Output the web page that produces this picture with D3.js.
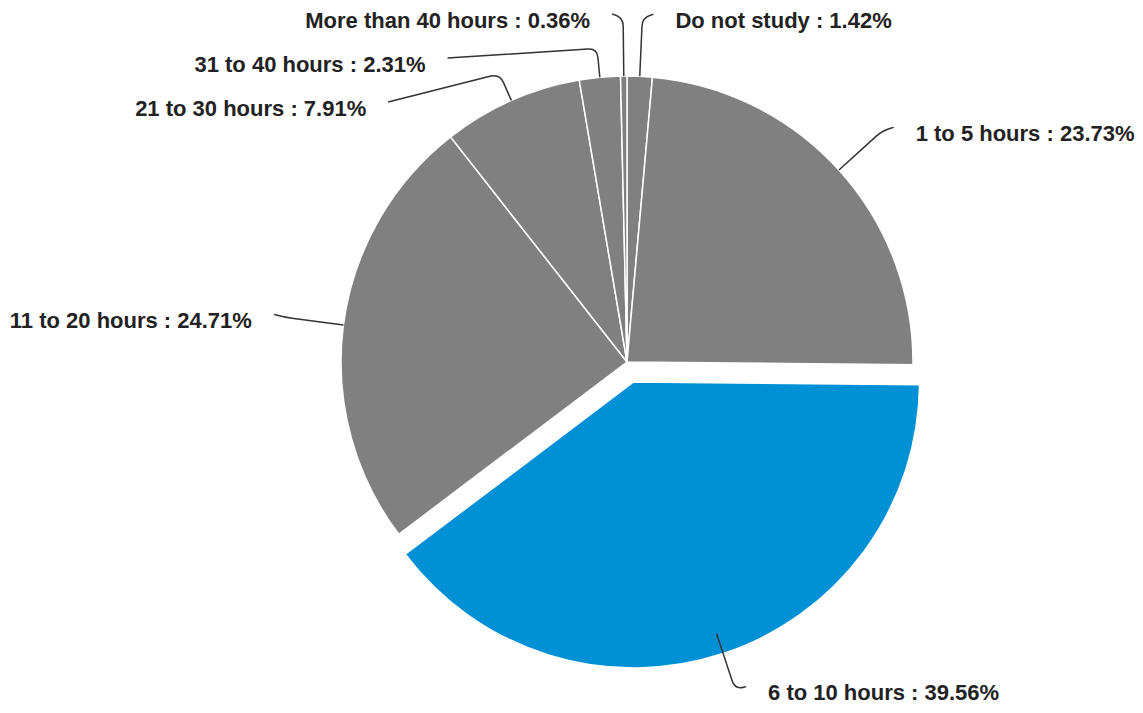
<!DOCTYPE html>
<html>
<head>
<meta charset="utf-8">
<script src="https://cdn.jsdelivr.net/npm/d3@7"></script>
<style>
  body { margin: 0; background: #fff; }
  svg { display: block; }
</style>
</head>
<body>
<svg id="chart" width="1143" height="713"></svg>
<script>
// slice data, clockwise from 12 o'clock
var categories = ["Do not study", "1 to 5 hours", "6 to 10 hours", "11 to 20 hours",
                  "21 to 30 hours", "31 to 40 hours", "More than 40 hours"];
var values = [1.42, 23.73, 39.56, 24.71, 7.91, 2.31, 0.36];
var highlighted = "6 to 10 hours";

var cx = 627, cy = 362, radius = 286;
var explode = 21;     // pull-out of the highlighted slice
var labelR = 345;     // where leader lines bend
var lineH = 44;       // min vertical gap between labels on one side

var svg = d3.select("#chart");
var g = svg.append("g")
    .attr("transform", "translate(" + cx + "," + cy + ")");

var data = categories.map(function(c, i) { return {name: c, value: values[i]}; });
var pie = d3.pie().sort(null).value(function(d) { return d.value; });
var arcs = pie(data);
var arc = d3.arc().innerRadius(0).outerRadius(radius);

function mid(d) { return (d.startAngle + d.endAngle) / 2; }
function polar(a, r) { return [r * Math.sin(a), -r * Math.cos(a)]; }

// slices
g.selectAll("path.slice")
    .data(arcs)
  .enter().append("path")
    .attr("class", "slice")
    .attr("d", arc)
    .attr("transform", function(d) {
      if (d.data.name !== highlighted) return null;
      return "translate(" + polar(mid(d), explode) + ")";
    })
    .attr("fill", function(d) { return d.data.name === highlighted ? "#0090d5" : "#808080"; })
    .attr("stroke", "#fff")
    .attr("stroke-width", 1.5);

// label layout: start at the bend point, push overlapping labels down
var labels = arcs.map(function(d) {
  var a = mid(d);
  var k = polar(a, labelR);
  var right = Math.sin(a) >= 0;
  return {d: d, a: a, right: right, k: k,
          ax: k[0] + (right ? 11 : -11), ay: k[1] - 3};
});

[true, false].forEach(function(side) {
  var list = labels.filter(function(l) { return l.right === side; })
    .sort(function(p, q) { return p.ay - q.ay; });
  for (var i = 1; i < list.length; i++) {
    var prev = list[i - 1], l = list[i];
    if (l.ay < prev.ay + lineH) {
      l.ay = prev.ay + lineH;
      var dx = Math.sqrt(Math.max(0, (labelR + 8) * (labelR + 8) - l.ay * l.ay));
      l.ax = side ? dx : -dx;
      l.k = polar(l.a, labelR - 30);
    }
  }
});

function unit(p, q) {
  var dx = q[0] - p[0], dy = q[1] - p[1], n = Math.sqrt(dx * dx + dy * dy) || 1;
  return [dx / n, dy / n];
}

// leader lines: radial out, small rounded bend, then to the label
g.selectAll("path.leader")
    .data(labels)
  .enter().append("path")
    .attr("class", "leader")
    .attr("fill", "none")
    .attr("stroke", "#333")
    .attr("stroke-width", 1.5)
    .attr("d", function(l) {
      var e = polar(l.a, radius), k = l.k, end = [l.ax, l.ay];
      var u1 = unit(e, k), u2 = unit(k, end);
      var k1 = [k[0] - 9 * u1[0], k[1] - 9 * u1[1]];
      var k2 = [k[0] + 9 * u2[0], k[1] + 9 * u2[1]];
      return "M" + e + "L" + k1 + "Q" + k + " " + k2 + "L" + end;
    });

g.selectAll("text.label")
    .data(labels)
  .enter().append("text")
    .attr("class", "label")
    .attr("x", function(l) { return l.ax + (l.right ? 22 : -22); })
    .attr("y", function(l) { return l.ay + 6; })
    .attr("dy", "0.35em")
    .attr("text-anchor", function(l) { return l.right ? "start" : "end"; })
    .style("font-family", "'Liberation Sans', Arial, sans-serif")
    .style("font-weight", "bold")
    .style("font-size", "22px")
    .style("fill", "#222")
    .text(function(l) { return l.d.data.name + " : " + l.d.data.value.toFixed(2) + "%"; });
</script>
</body>
</html>
